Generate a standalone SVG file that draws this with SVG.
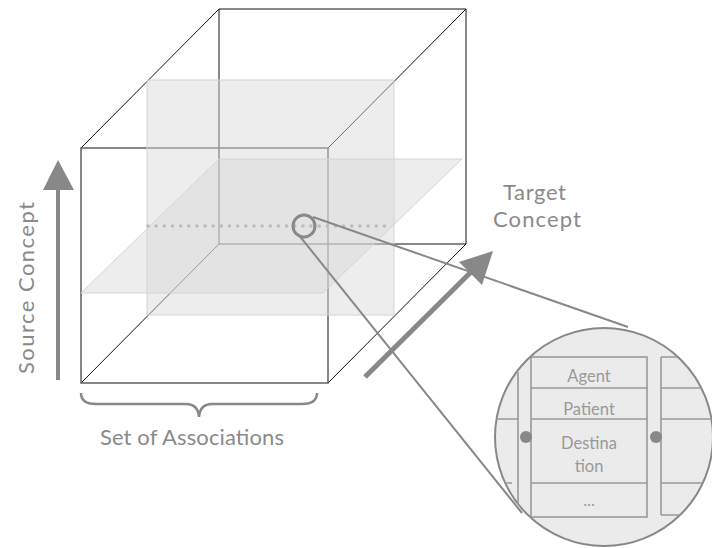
<svg xmlns="http://www.w3.org/2000/svg" width="712" height="548" viewBox="0 0 712 548">
<style>
.edge{fill:none;stroke:#111;stroke-width:1}
.front{fill:none;stroke:#555;stroke-width:1.4}
.plane{fill:#d8d8d8;fill-opacity:0.45;stroke:#d4d4d4;stroke-width:1}
.lbl{font-family:Lato,"Open Sans","Liberation Sans",sans-serif;fill:#8a8a8a;font-size:22px}
.gl{fill:none;stroke:#888;stroke-width:2}
.in{fill:none;stroke:#999;stroke-width:1.6}
.it{font-family:Lato,"Open Sans","Liberation Sans",sans-serif;fill:#999;font-size:16.5px;text-anchor:middle}
</style>
<defs>
<clipPath id="cc"><circle cx="604" cy="437" r="109"/></clipPath>
</defs>
<g id="cube">
<polyline class="edge" points="81,148 219,9 466,9 466,244 328,383"/>
<line class="edge" x1="328" y1="148" x2="466" y2="9"/>
<polyline class="edge" points="219,9 219,244 466,244"/>
<line class="edge" x1="219" y1="244" x2="81" y2="383"/>
<rect class="front" x="81" y="148" width="247" height="235"/>
</g>
<g id="planes">
<rect class="plane" x="147" y="80" width="247" height="235"/>
<polygon class="plane" points="81,293 323,293 462,159 219,159"/>
<line x1="148" y1="226" x2="392" y2="226" stroke="#bbb" stroke-width="3.6" stroke-linecap="round" stroke-dasharray="0 8.15"/>
</g>
<g id="source-axis">
<line x1="58" y1="380" x2="58" y2="186" stroke="#888" stroke-width="4"/>
<polygon points="58,160 43,190 74,190" fill="#888"/>
<text class="lbl" transform="translate(34,288) rotate(-90)" text-anchor="middle" textLength="172" lengthAdjust="spacing">Source Concept</text>
</g>
<g id="target-axis">
<line x1="365" y1="377" x2="472" y2="271" stroke="#888" stroke-width="5"/>
<polygon points="493,251 459,262 482,285" fill="#888"/>
<text class="lbl" x="503" y="200" textLength="63" lengthAdjust="spacing">Target</text>
<text class="lbl" x="493" y="227" textLength="88" lengthAdjust="spacing">Concept</text>
</g>
<g id="associations">
<path d="M81,393 Q81,404 96,404 L186,404 Q198,404 199,417 Q200,404 212,404 L302,404 Q317,404 317,393" fill="none" stroke="#888" stroke-width="2.5"/>
<text class="lbl" x="100" y="445" textLength="184" lengthAdjust="spacing">Set of Associations</text>
</g>
<g id="connectors">
<line class="gl" x1="313" y1="217" x2="628" y2="327" stroke-width="2.5"/>
<line class="gl" x1="298" y1="234" x2="522" y2="513" stroke-width="2.5"/>
<circle cx="304" cy="226" r="11" fill="none" stroke="#888" stroke-width="3"/>
</g>
<g id="zoom">
<circle cx="604" cy="437" r="109" fill="#ebebeb" stroke="#888" stroke-width="2"/>
<g clip-path="url(#cc)">
<line class="in" x1="518" y1="372" x2="518" y2="517"/>
<line class="in" x1="490" y1="419" x2="518" y2="419"/>
<line class="in" x1="490" y1="483" x2="512" y2="483"/>
<rect class="in" x="531" y="357" width="116" height="160"/>
<line class="in" x1="531" y1="388" x2="647" y2="388"/>
<line class="in" x1="531" y1="419" x2="647" y2="419"/>
<line class="in" x1="531" y1="483" x2="647" y2="483"/>
<line class="in" x1="661" y1="357" x2="661" y2="515"/>
<line class="in" x1="661" y1="357" x2="720" y2="357"/>
<line class="in" x1="661" y1="388" x2="703" y2="388"/>
<line class="in" x1="661" y1="419" x2="720" y2="419"/>
<line class="in" x1="661" y1="483" x2="703" y2="483"/>
<line class="in" x1="661" y1="515" x2="682" y2="515"/>
</g>
<circle cx="526" cy="437" r="6" fill="#888"/>
<circle cx="656" cy="437" r="6" fill="#888"/>
<text class="it" x="589" y="382">Agent</text>
<text class="it" x="589" y="415">Patient</text>
<text class="it"><tspan x="589" y="449">Destina</tspan><tspan x="589" y="472">tion</tspan></text>
<text class="it" x="589" y="506">...</text>
</g>
</svg>
